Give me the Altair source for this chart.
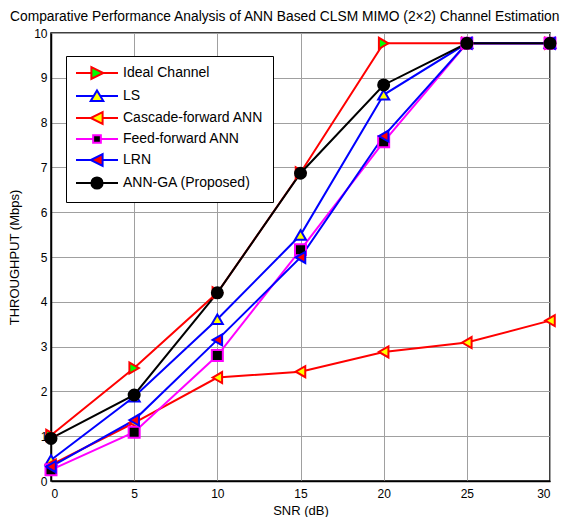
import altair as alt
import pandas as pd

# ---- data ----
snr = [0, 5, 10, 15, 20, 25, 30]
series_names = ["Ideal Channel", "LS", "Cascade-forward ANN", "Feed-forward ANN", "LRN", "ANN-GA (Proposed)"]
ideal = [1.02, 2.52, 4.20, 6.88, 9.77, 9.77, 9.77]
ls = [0.47, 1.88, 3.61, 5.49, 8.62, 9.77, 9.77]
cascade = [0.36, 1.30, 2.31, 2.44, 2.88, 3.09, 3.58]
feedfwd = [0.25, 1.09, 2.80, 5.16, 7.57, 9.77, 9.77]
lrn = [0.32, 1.36, 3.15, 4.99, 7.70, 9.77, 9.77]
annga = [0.95, 1.92, 4.20, 6.87, 8.84, 9.77, 9.77]
y_ticks = list(range(0, 11))
x_ticks = [0, 5, 10, 15, 20, 25, 30]

# ---- styles ----
line_colors = ["#ff0000", "#0000ff", "#ff0000", "#ff00ff", "#0000ff", "#000000"]
fill_colors = ["#00ff00", "#ffff00", "#ffff00", "#000000", "#ff0000", "#000000"]
plot_shapes = ["triangle-right", "triangle-up", "triangle-left", "square", "triangle-left", "circle"]
marker_sizes = [121, 121, 121, 49, 121, 140]
legend_shapes = [
    "M-1,0L1.2,0M2.9,0L5,0M1.2,-0.85L2.9,0L1.2,0.85Z",
    "M-1,0L1.52,0M2.48,0L5,0M2,-0.8L2.9,0.7L1.1,0.7Z",
    "M-1,0L1.1,0M2.8,0L5,0M2.8,-0.85L1.1,0L2.8,0.85Z",
    "M-1,0L1.45,0M2.55,0L5,0M1.45,-0.55L2.55,-0.55L2.55,0.55L1.45,0.55Z",
    "M-1,0L1.1,0M2.8,0L5,0M2.8,-0.85L1.1,0L2.8,0.85Z",
    "M-1,0L1.2,0M2.8,0L5,0M2.8,0A0.8,0.8 0 1,1 1.2,0A0.8,0.8 0 1,1 2.8,0Z",
]

values = [ideal, ls, cascade, feedfwd, lrn, annga]
rows = []
for k, (name, vals) in enumerate(zip(series_names, values)):
    for s, v in zip(snr, vals):
        rows.append({"series": name, "k": k, "snr": s, "thr": v})
df = pd.DataFrame(rows)

FONT = "Liberation Sans"

x_enc = alt.X("snr:Q", title="SNR (dB)",
              scale=alt.Scale(domain=[0, 30], nice=False),
              axis=alt.Axis(values=x_ticks, format="d"))
y_enc = alt.Y("thr:Q", title="THROUGHPUT (Mbps)",
              scale=alt.Scale(domain=[0, 10], nice=False),
              axis=alt.Axis(values=y_ticks, format="d"))

lines = alt.Chart(df).mark_line(strokeWidth=2).encode(
    x=x_enc, y=y_enc,
    color=alt.Color("series:N", scale=alt.Scale(domain=series_names, range=line_colors), legend=None),
    order="snr:Q",
)

points = alt.Chart(df).mark_point(filled=True, opacity=1, fillOpacity=1, strokeWidth=2).encode(
    x=x_enc, y=y_enc,
    shape=alt.Shape("series:N", scale=alt.Scale(domain=series_names, range=plot_shapes), legend=None),
    stroke=alt.Stroke("series:N", scale=alt.Scale(domain=series_names, range=line_colors), legend=None),
    fill=alt.Fill("series:N", scale=alt.Scale(domain=series_names, range=fill_colors), legend=None),
    size=alt.Size("series:N", scale=alt.Scale(domain=series_names, range=marker_sizes), legend=None),
    order="k:Q",
)

legend_layer = alt.Chart(df).transform_filter("datum.snr < 0").mark_point(
    filled=True, opacity=1, fillOpacity=1, strokeWidth=2
).encode(
    x=x_enc, y=y_enc,
    shape=alt.Shape("series:N", scale=alt.Scale(domain=series_names, range=legend_shapes),
                    legend=alt.Legend(title=None)),
    stroke=alt.Stroke("series:N", scale=alt.Scale(domain=series_names, range=line_colors),
                      legend=alt.Legend(title=None)),
    fill=alt.Fill("series:N", scale=alt.Scale(domain=series_names, range=fill_colors),
                  legend=alt.Legend(title=None)),
)

chart = alt.layer(lines, points, legend_layer).resolve_scale(
    shape="independent", stroke="independent", fill="independent", color="independent", size="independent"
).properties(
    width=499, height=448,
    autosize=alt.AutoSizeParams(type="none"),
    padding={"left": 43, "top": 25, "right": 24, "bottom": 36},
    title=alt.TitleParams(
        "Comparative Performance Analysis of ANN Based CLSM MIMO (2\u00d72) Channel Estimation",
        font=FONT, fontSize=13.8, fontWeight="normal", color="black", offset=3,
        anchor="start", frame="group", dx=-41,
    ),
).configure_view(
    stroke="black", strokeWidth=1.5,
).configure_axis(
    labelFont=FONT, labelFontSize=12, labelColor="black",
    titleFont=FONT, titleFontSize=13, titleFontWeight="normal", titleColor="black",
    grid=True, gridColor="#a0a0a0", gridWidth=1,
    domainColor="black", domainWidth=1.5,
    ticks=False,
).configure_axisX(
    labelPadding=7, titlePadding=5,
).configure_axisY(
    labelPadding=4, titlePadding=12,
).configure_legend(
    orient="none", legendX=15, legendY=23, padding=9,
    strokeColor="black", fillColor="white",
    symbolSize=196, symbolStrokeWidth=2, labelOffset=32,
    labelFont=FONT, labelFontSize=14, labelColor="black",
    rowPadding=3,
)

chart.save("out.html", embed_options={"renderer": "svg", "actions": False})
